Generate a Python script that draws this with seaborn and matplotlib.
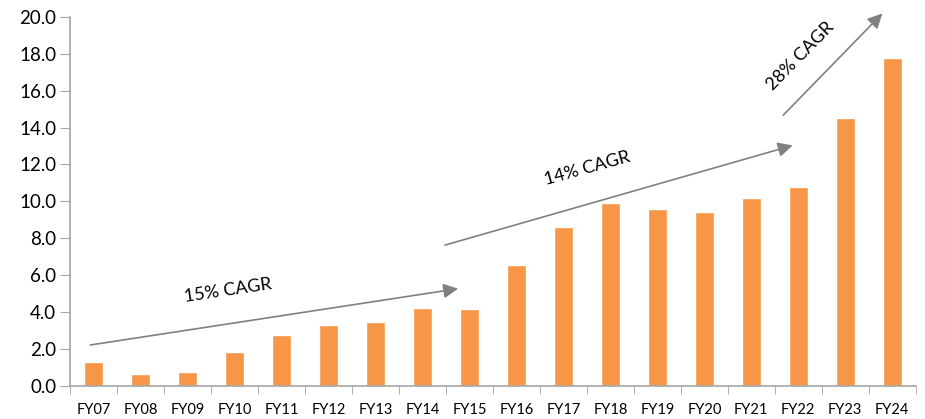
import matplotlib
matplotlib.use("Agg")
import matplotlib.pyplot as plt
import seaborn as sns
import pandas as pd
import numpy as np

years = ["FY07", "FY08", "FY09", "FY10", "FY11", "FY12", "FY13", "FY14", "FY15",
         "FY16", "FY17", "FY18", "FY19", "FY20", "FY21", "FY22", "FY23", "FY24"]
values = [1.32, 0.65, 0.76, 1.84, 2.78, 3.31, 3.49, 4.23, 4.19,
          6.56, 8.60, 9.92, 9.59, 9.41, 10.19, 10.79, 14.53, 17.78]

# trend arrows: (start x, start y, end x, end y) in category/data units, label
cagr_labels = ["15% CAGR", "14% CAGR", "28% CAGR"]
arrow_start = [(-0.07, 2.22), (7.48, 7.63), (14.68, 14.67)]
arrow_end = [(7.76, 5.27), (14.88, 13.03), (16.79, 20.18)]
label_pos = [(2.86, 5.15), (10.5, 11.8), (15.05, 17.9)]
label_rot = [8.5, 15.5, 45.5]

sns.set_style("white")
plt.rcParams['font.family'] = ['Lato', 'DejaVu Sans']

df = pd.DataFrame({"year": years, "value": values})

fig = plt.figure(figsize=(9.25, 4.19), dpi=100)
ax = fig.add_axes([0.0757, 0.0788, 0.9143, 0.8812])

sns.barplot(data=df, x="year", y="value", color="#F79646", saturation=1,
            width=0.4, ax=ax)

ax.set_xlim(-0.5, len(years) - 0.5)
ax.set_ylim(0, 20)
ax.set_yticks(np.arange(0, 20.1, 2))
ax.set_yticklabels([f"{v:.1f}" for v in np.arange(0, 20.1, 2)], fontsize=13.5,
                   color="black")
ax.set_xlabel("")
ax.set_ylabel("")
ax.tick_params(axis="x", length=0, labelsize=10.5, pad=12, labelcolor="black")
ax.tick_params(axis="y", length=7, color="#A6A6A6", direction="out", pad=3, left=True)
ax.set_xticks(np.arange(-0.5, len(years), 1), minor=True)
ax.tick_params(axis="x", which="minor", length=6, color="#A6A6A6", direction="out", bottom=True)

for s in ["top", "right"]:
    ax.spines[s].set_visible(False)
for s in ["left", "bottom"]:
    ax.spines[s].set_color("#A6A6A6")
    ax.spines[s].set_linewidth(1.2)

for lab, st, en, pos, rot in zip(cagr_labels, arrow_start, arrow_end, label_pos, label_rot):
    ax.annotate("", xy=en, xytext=st, annotation_clip=False,
                arrowprops=dict(arrowstyle="-|>", color="#808080", lw=1.2,
                                mutation_scale=22, shrinkA=0, shrinkB=0))
    ax.text(pos[0], pos[1], lab, rotation=rot, rotation_mode="anchor",
            ha="center", va="center", fontsize=13, color="black")

fig.savefig("out.png", dpi=100)
